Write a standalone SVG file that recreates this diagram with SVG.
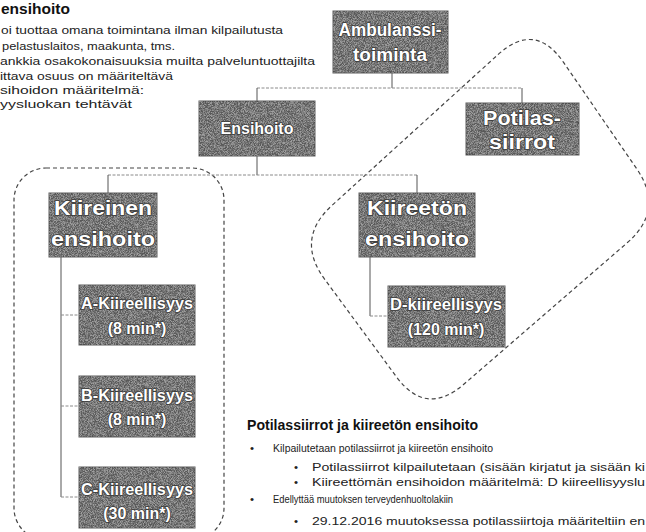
<svg xmlns="http://www.w3.org/2000/svg" width="646" height="532" viewBox="0 0 646 532">
<defs>
<style>
.box{fill:#7a7a7a;stroke:#5e5e5e;stroke-width:1}
.bt{font-family:"Liberation Sans",Arial,sans-serif;font-weight:bold;fill:#ffffff;stroke:#3a3a3a;stroke-width:1.6;paint-order:stroke;text-anchor:middle}
.h{stroke:#8a8a8a;stroke-width:1;stroke-dasharray:3 1.5;fill:none}
.v{stroke:#555;stroke-width:1;fill:none}
.grp{fill:none;stroke:#444;stroke-width:1.2;stroke-dasharray:4 3}
.tx{font-family:"Liberation Sans",Arial,sans-serif;font-size:11.5px;fill:#222}
.tb{font-family:"Liberation Sans",Arial,sans-serif;font-weight:bold;fill:#111}
</style>
<filter id="grain" x="0" y="0" width="1" height="1" color-interpolation-filters="sRGB">
<feTurbulence type="fractalNoise" baseFrequency="1.3" numOctaves="2" seed="4" result="n"/>
<feColorMatrix in="n" type="saturate" values="0" result="g"/>
<feComponentTransfer in="g" result="a">
<feFuncR type="linear" slope="4" intercept="-1.55"/>
<feFuncG type="linear" slope="4" intercept="-1.55"/>
<feFuncB type="linear" slope="4" intercept="-1.55"/>
<feFuncA type="linear" slope="0" intercept="0.28"/>
</feComponentTransfer>
<feComposite in="a" in2="SourceGraphic" operator="in"/>
</filter>
</defs>
<rect width="646" height="532" fill="#ffffff"/>

<g id="text-top-left">
<text class="tb" x="1" y="14" font-size="15.5">ensihoito</text>
<text class="tx" x="1" y="34" textLength="282" lengthAdjust="spacingAndGlyphs">oi tuottaa omana toimintana ilman kilpailutusta</text>
<text class="tx" x="2" y="50" textLength="173" lengthAdjust="spacingAndGlyphs">pelastuslaitos, maakunta, tms.</text>
<text class="tx" x="0" y="65" textLength="315" lengthAdjust="spacingAndGlyphs">ankkia osakokonaisuuksia muilta palveluntuottajilta</text>
<text class="tx" x="0" y="80" textLength="173" lengthAdjust="spacingAndGlyphs">ittava osuus on määriteltävä</text>
<text class="tx" x="0" y="94" textLength="144" lengthAdjust="spacingAndGlyphs">sihoidon määritelmä:</text>
<text class="tx" x="0" y="108" textLength="132" lengthAdjust="spacingAndGlyphs">yysluokan tehtävät</text>
</g>

<g id="groups">
<rect class="grp" x="14" y="168" width="210" height="372" rx="32"/>
<path class="grp" d="M498,54.6 Q535,21 563.4,62.2 L636.7,168.8 Q665,210 627.2,242.8 L463.8,384.3 Q426,417 396.4,376.8 L324.7,279.3 Q295,239 332,205.4 Z"/>
</g>

<g id="connectors">
<path class="v" d="M392,73 V88"/>
<path class="h" d="M257,88 H522"/>
<path class="v" d="M257,88 V101"/>
<path class="v" d="M522,88 V103"/>
<path class="v" d="M257,156 V175"/>
<path class="h" d="M108,175 H417"/>
<path class="v" d="M108,175 V193"/>
<path class="v" d="M417,175 V193"/>
<path class="v" d="M61,257 V497"/>
<path class="h" d="M61,315 H79"/>
<path class="h" d="M61,406 H79"/>
<path class="h" d="M61,497 H79"/>
<path class="v" d="M370,257 V316"/>
<path class="h" d="M370,316 H388"/>
</g>

<g id="ambulanssi">
<rect class="box" x="333" y="11" width="115" height="62"/>
<rect x="333" y="11" width="115" height="62" filter="url(#grain)"/>
<text class="bt" x="390" y="36" font-size="18" textLength="103" lengthAdjust="spacingAndGlyphs">Ambulanssi-</text>
<text class="bt" x="390" y="61" font-size="18" textLength="74" lengthAdjust="spacingAndGlyphs">toiminta</text>
</g>

<g id="ensihoito">
<rect class="box" x="199" y="101" width="116" height="55"/>
<rect x="199" y="101" width="116" height="55" filter="url(#grain)"/>
<text class="bt" x="257" y="134" font-size="16">Ensihoito</text>
</g>

<g id="potilassiirrot">
<rect class="box" x="466" y="103" width="113" height="52"/>
<rect x="466" y="103" width="113" height="52" filter="url(#grain)"/>
<text class="bt" x="522" y="125" font-size="20" textLength="78" lengthAdjust="spacingAndGlyphs">Potilas-</text>
<text class="bt" x="522" y="149" font-size="20" textLength="66" lengthAdjust="spacingAndGlyphs">siirrot</text>
</g>

<g id="kiireinen">
<rect class="box" x="49" y="193" width="108" height="64"/>
<rect x="49" y="193" width="108" height="64" filter="url(#grain)"/>
<text class="bt" x="103" y="215" font-size="20" textLength="98" lengthAdjust="spacingAndGlyphs">Kiireinen</text>
<text class="bt" x="103" y="246" font-size="20" textLength="104" lengthAdjust="spacingAndGlyphs">ensihoito</text>
</g>

<g id="kiireeton">
<rect class="box" x="359" y="193" width="116" height="64"/>
<rect x="359" y="193" width="116" height="64" filter="url(#grain)"/>
<text class="bt" x="417" y="215" font-size="20" textLength="100" lengthAdjust="spacingAndGlyphs">Kiireetön</text>
<text class="bt" x="417" y="246" font-size="20" textLength="104" lengthAdjust="spacingAndGlyphs">ensihoito</text>
</g>

<g id="a-kiireellisyys">
<rect class="box" x="79" y="285" width="116" height="60"/>
<rect x="79" y="285" width="116" height="60" filter="url(#grain)"/>
<text class="bt" x="137" y="309" font-size="16" textLength="112" lengthAdjust="spacingAndGlyphs">A-Kiireellisyys</text>
<text class="bt" x="137" y="334" font-size="16">(8 min*)</text>
</g>

<g id="b-kiireellisyys">
<rect class="box" x="79" y="376" width="116" height="61"/>
<rect x="79" y="376" width="116" height="61" filter="url(#grain)"/>
<text class="bt" x="137" y="401" font-size="16" textLength="112" lengthAdjust="spacingAndGlyphs">B-Kiireellisyys</text>
<text class="bt" x="137" y="425" font-size="16">(8 min*)</text>
</g>

<g id="c-kiireellisyys">
<rect class="box" x="79" y="467" width="116" height="61"/>
<rect x="79" y="467" width="116" height="61" filter="url(#grain)"/>
<text class="bt" x="137" y="495" font-size="16" textLength="112" lengthAdjust="spacingAndGlyphs">C-Kiireellisyys</text>
<text class="bt" x="137" y="519" font-size="16">(30 min*)</text>
</g>

<g id="d-kiireellisyys">
<rect class="box" x="388" y="286" width="117" height="61"/>
<rect x="388" y="286" width="117" height="61" filter="url(#grain)"/>
<text class="bt" x="446" y="310" font-size="16" textLength="112" lengthAdjust="spacingAndGlyphs">D-kiireellisyys</text>
<text class="bt" x="446" y="335" font-size="16">(120 min*)</text>
</g>

<g id="text-bottom-right">
<text class="tb" x="247" y="430" font-size="14.5" textLength="231" lengthAdjust="spacingAndGlyphs">Potilassiirrot ja kiireetön ensihoito</text>
<text class="tx" x="250" y="452">•</text>
<text class="tx" x="273" y="452" textLength="220" lengthAdjust="spacingAndGlyphs">Kilpailutetaan potilassiirrot ja kiireetön ensihoito</text>
<text class="tx" x="294" y="471">•</text>
<text class="tx" x="312" y="471" textLength="333" lengthAdjust="spacingAndGlyphs">Potilassiirrot kilpailutetaan (sisään kirjatut ja sisään ki</text>
<text class="tx" x="294" y="486">•</text>
<text class="tx" x="312" y="486" textLength="333" lengthAdjust="spacingAndGlyphs">Kiireettömän ensihoidon määritelmä: D kiireellisyyslu</text>
<text class="tx" x="250" y="503">•</text>
<text class="tx" x="273" y="503" textLength="180" lengthAdjust="spacingAndGlyphs">Edellyttää muutoksen terveydenhuoltolakiin</text>
<text class="tx" x="294" y="525">•</text>
<text class="tx" x="312" y="525" textLength="333" lengthAdjust="spacingAndGlyphs">29.12.2016 muutoksessa potilassiirtoja määriteltiin en</text>
</g>
</svg>
